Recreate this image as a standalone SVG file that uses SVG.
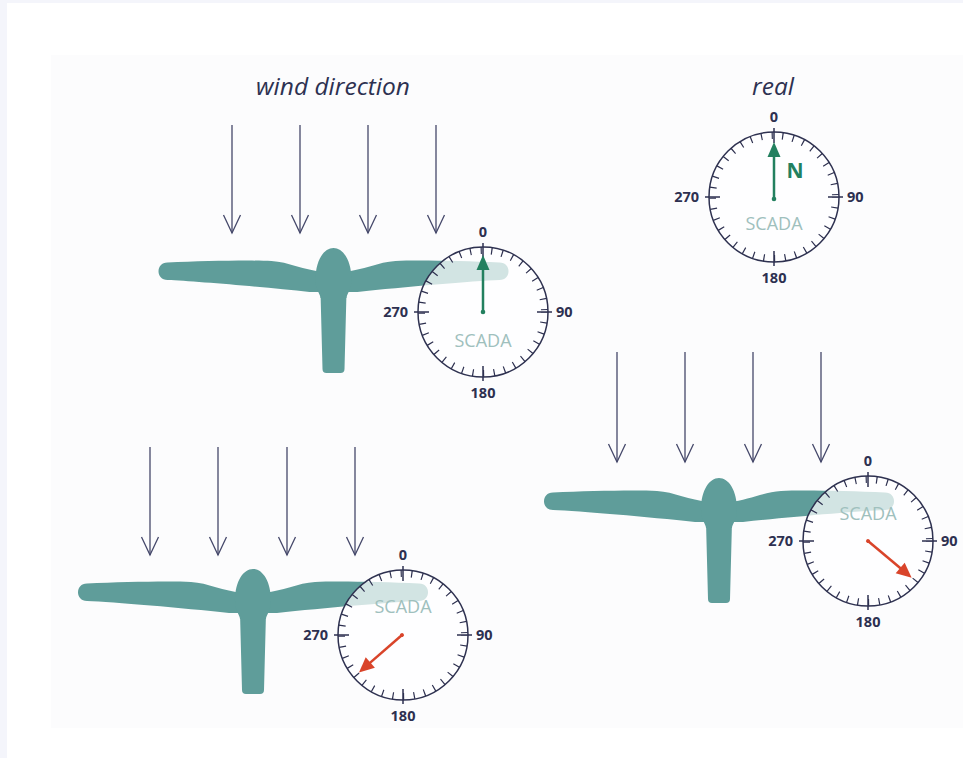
<svg xmlns="http://www.w3.org/2000/svg" xmlns:xlink="http://www.w3.org/1999/xlink" width="963" height="758" viewBox="0 0 963 758">
  <style>
    .title { font-family: "Open Sans", "Liberation Sans", sans-serif; font-style: italic; font-size: 24.5px; fill: #2d3151; text-anchor: middle; }
    .deg { font-family: "Open Sans", "Liberation Sans", sans-serif; font-weight: bold; font-size: 14.5px; fill: #2d3050; }
    .mid { text-anchor: middle; }
    .end { text-anchor: end; }
    .scada { font-family: "Open Sans", "Liberation Sans", sans-serif; font-size: 18px; fill: #9fc0bd; text-anchor: middle; }
    .north { font-family: "Open Sans", "Liberation Sans", sans-serif; font-weight: bold; font-size: 21px; fill: #23805f; text-anchor: middle; }
    .blade { fill: #5f9d9a; }
    .wind { stroke: #45486a; stroke-width: 1.3; fill: none; marker-end: url(#vhead); }
    .ring { fill: #ffffff; fill-opacity: 0.72; stroke: #2e3150; stroke-width: 1.5; }
    .ticks { fill: none; stroke: #2e3150; stroke-width: 7; stroke-dasharray: 1.2 9.449; stroke-dashoffset: 0.6; }
    .major { stroke: #2e3150; stroke-width: 1.5; }
  </style>
  <defs>
    <marker id="vhead" markerUnits="userSpaceOnUse" markerWidth="30" markerHeight="30" refX="0" refY="0" orient="auto" overflow="visible">
      <path d="M -18,-8.5 L 0,0 L -18,8.5" fill="none" stroke="#45486a" stroke-width="1.3"/>
    </marker>
    <!-- one blade, pointing left from the hub -->
    <path id="blade" class="blade" d="M -10,20 L -24,20 C -70,15 -140,9 -166,8 C -178,8 -178,-9.5 -166,-9.5 C -130,-11 -85,-12 -62,-11 C -45,-10 -30,-2 -10,0 Z"/>
    <!-- turbine seen from above: two blades, hub and mast -->
    <g id="turbine">
      <use xlink:href="#blade"/>
      <use xlink:href="#blade" transform="scale(-1,1)"/>
      <path class="blade" d="M -13,20 L 13,20 L 11,97 Q 11,101 7,101 L -7,101 Q -11,101 -11,97 Z"/>
      <path class="blade" d="M -18,8 C -18,-12 -9.5,-24 0,-24 C 9.5,-24 18,-12 18,8 C 18,18 13,22 13,26 L -13,26 C -13,22 -18,18 -18,8 Z"/>
    </g>
    <!-- compass dial: translucent face, ring, 10-degree ticks, cardinal ticks -->
    <g id="dial">
      <circle class="ring" r="65"/>
      <circle class="ticks" r="61.5"/>
      <line class="major" x1="0" y1="-54" x2="0" y2="-69"/>
      <line class="major" x1="54" y1="0" x2="69" y2="0"/>
      <line class="major" x1="0" y1="54" x2="0" y2="69"/>
      <line class="major" x1="-54" y1="0" x2="-69" y2="0"/>
    </g>
    <g id="dial-labels">
      <text class="deg mid" x="0" y="-75">0</text>
      <text class="deg" x="73" y="5">90</text>
      <text class="deg end" x="-75" y="5">270</text>
      <text class="deg mid" x="0" y="86">180</text>
    </g>
    <!-- needle pointing to 0 -->
    <g id="needle-green">
      <line x1="0" y1="0" x2="0" y2="-44" stroke="#23805f" stroke-width="2.5"/>
      <polygon points="0,-57 -6.5,-42 6.5,-42" fill="#23805f"/>
      <circle r="2.3" fill="#23805f"/>
    </g>
    <g id="needle-red">
      <line x1="0" y1="0" x2="0" y2="-44" stroke="#d9442a" stroke-width="2.5"/>
      <polygon points="0,-57 -7,-42 7,-42" fill="#d9442a"/>
      <circle r="2" fill="#d9442a"/>
    </g>
  </defs>

  <!-- page background -->
  <rect width="963" height="758" fill="#f4f5fb"/>
  <rect x="7" y="3" width="956" height="755" fill="#ffffff"/>
  <rect x="51" y="55" width="912" height="673" fill="#fcfcfd"/>

  <text class="title" x="333" y="95">wind direction</text>
  <text class="title" x="773" y="95">real</text>

  <!-- reference compass -->
  <g id="compass-real" transform="translate(774,197)">
    <use xlink:href="#dial"/>
    <use xlink:href="#dial-labels"/>
    <text class="scada" x="0" y="33">SCADA</text>
    <g transform="translate(0,2)"><use xlink:href="#needle-green"/></g>
    <text class="north" x="21" y="-19">N</text>
  </g>

  <!-- turbine 1: aligned, reads 0 -->
  <g id="turbine-aligned">
    <use xlink:href="#turbine" transform="translate(333.5,272)"/>
    <g transform="translate(483,312)">
      <use xlink:href="#dial"/>
      <use xlink:href="#dial-labels"/>
      <text class="scada" x="0" y="35">SCADA</text>
      <use xlink:href="#needle-green"/>
    </g>
  </g>

  <!-- turbine 2: offset, reads about 230 -->
  <g id="turbine-offset-left">
    <use xlink:href="#turbine" transform="translate(253,593)"/>
    <g transform="translate(403,635)">
      <use xlink:href="#dial"/>
      <use xlink:href="#dial-labels"/>
      <text class="scada" x="0" y="-22">SCADA</text>
      <use xlink:href="#needle-red" transform="translate(-1,0) rotate(229)"/>
    </g>
  </g>

  <!-- turbine 3: offset, reads about 130 -->
  <g id="turbine-offset-right">
    <use xlink:href="#turbine" transform="translate(719,502)"/>
    <g transform="translate(868,541)">
      <use xlink:href="#dial"/>
      <use xlink:href="#dial-labels"/>
      <text class="scada" x="0" y="-21">SCADA</text>
      <use xlink:href="#needle-red" transform="rotate(130)"/>
    </g>
  </g>

  <!-- wind arrows -->
  <g id="connectors">
    <line class="wind" x1="232" y1="125" x2="232" y2="233"/>
    <line class="wind" x1="300" y1="125" x2="300" y2="233"/>
    <line class="wind" x1="368" y1="125" x2="368" y2="233"/>
    <line class="wind" x1="436" y1="125" x2="436" y2="233"/>

    <line class="wind" x1="150" y1="447" x2="150" y2="555"/>
    <line class="wind" x1="218" y1="447" x2="218" y2="555"/>
    <line class="wind" x1="287" y1="447" x2="287" y2="555"/>
    <line class="wind" x1="355" y1="447" x2="355" y2="555"/>

    <line class="wind" x1="617" y1="352" x2="617" y2="462"/>
    <line class="wind" x1="685" y1="352" x2="685" y2="462"/>
    <line class="wind" x1="753" y1="352" x2="753" y2="462"/>
    <line class="wind" x1="821" y1="352" x2="821" y2="462"/>
  </g>
</svg>
